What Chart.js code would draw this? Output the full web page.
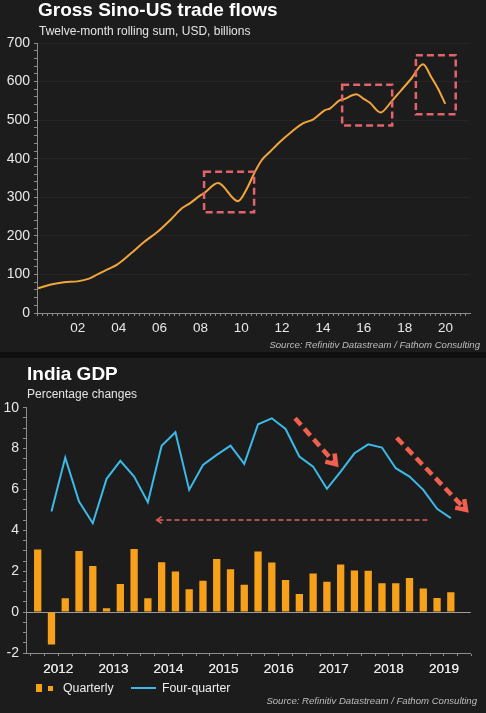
<!DOCTYPE html>
<html>
<head>
<meta charset="utf-8">
<script src="https://cdn.jsdelivr.net/npm/chart.js@4.4.0/dist/chart.umd.min.js"></script>
<style>
html, body { margin: 0; padding: 0; background: #0f0f0f; }
body { width: 486px; height: 713px; position: relative; overflow: hidden; font-family: "Liberation Sans", Arial, sans-serif; }
.panel { position: absolute; left: 0; width: 486px; background: #1c1c1c; }
#p1 { top: 0; height: 352px; }
#p2 { top: 358px; height: 355px; }
.panel canvas { position: absolute; left: 0; top: 0; }
.title { position: absolute; color: #fff; font-weight: bold; font-size: 19px; line-height: 19px; white-space: nowrap; }
.sub { position: absolute; color: #e4e4e4; font-size: 12px; line-height: 12px; white-space: nowrap; }
.source { position: absolute; color: #bdbdbd; font-size: 9.6px; line-height: 10px; font-style: italic; white-space: nowrap; }
.legend { position: absolute; left: 36px; top: 322px; height: 14px; color: #eee; font-size: 12.3px; line-height: 14px; white-space: nowrap; }
.legend span { display: inline-block; vertical-align: middle; }
</style>
</head>
<body>
<div class="panel" id="p1">
  <canvas id="tradeChart" width="486" height="352"></canvas>
  <div class="title" style="left:38px;top:0px;">Gross Sino-US trade flows</div>
  <div class="sub" style="left:39px;top:25px;">Twelve-month rolling sum, USD, billions</div>
  <div class="source" style="right:6px;top:340px;">Source: Refinitiv Datastream / Fathom Consulting</div>
</div>
<div class="panel" id="p2">
  <canvas id="gdpChart" width="486" height="355"></canvas>
  <div class="title" style="left:27px;top:6px;">India GDP</div>
  <div class="sub" style="left:27px;top:30px;">Percentage changes</div>
  <div class="legend">
    <span style="width:6px;height:8px;background:#f7a11a;"></span><span style="width:6px;"></span><span style="width:5px;height:5px;background:#f7a11a;margin-top:2px;"></span><span style="margin-left:10px;">Quarterly</span>
    <span style="width:25px;height:2px;background:#3cb9e6;margin-left:14px;"></span><span style="margin-left:6px;">Four-quarter</span>
  </div>
  <div class="source" style="right:9px;top:338px;">Source: Refinitiv Datastream / Fathom Consulting</div>
</div>

<script>
// Gross Sino-US trade flows, twelve-month rolling sum (USD bn), dates as decimal years
const tradeDates = [2000.05, 2000.68, 2001.33, 2001.98, 2002.55, 2002.96, 2003.45, 2003.94, 2004.59, 2005.24,
  2005.89, 2006.54, 2007.11, 2007.5, 2008.0, 2008.16, 2008.86, 2009.84, 2010.3, 2010.65,
  2011.0, 2011.41, 2011.9, 2012.47, 2013.04, 2013.53, 2014.1, 2014.34, 2014.83, 2015.0,
  2015.64, 2015.97, 2016.3, 2016.82, 2017.35, 2017.84, 2018.33, 2018.9, 2019.3, 2019.63, 2019.99];
const tradeValues = [64, 74, 80, 82, 89, 100, 113, 126, 154, 184,
  210, 242, 272, 285, 305, 310, 337, 290, 325, 364,
  396, 418, 444, 470, 492, 502, 526, 530, 552, 554,
  567, 556, 545, 520, 548, 578, 608, 645, 612, 582, 542];
const tradeYearTicks = [2002, 2004, 2006, 2008, 2010, 2012, 2014, 2016, 2018, 2020];
// dashed boxes on the trade chart (years / USD bn)
const highlightSpans = [[2008.18, 2010.63], [2014.94, 2017.39], [2018.55, 2020.5]];
const highlightBands = [[261, 366], [486, 592], [515, 668]];

// India GDP, percentage changes
const quarters = ['2012Q1', '2012Q2', '2012Q3', '2012Q4', '2013Q1', '2013Q2', '2013Q3', '2013Q4',
  '2014Q1', '2014Q2', '2014Q3', '2014Q4', '2015Q1', '2015Q2', '2015Q3', '2015Q4',
  '2016Q1', '2016Q2', '2016Q3', '2016Q4', '2017Q1', '2017Q2', '2017Q3', '2017Q4',
  '2018Q1', '2018Q2', '2018Q3', '2018Q4', '2019Q1', '2019Q2', '2019Q3'];
const quarterlyGrowth = [3.06, -1.59, 0.68, 2.99, 2.25, 0.19, 1.37, 3.09, 0.68, 2.44,
  1.99, 1.12, 1.53, 2.6, 2.1, 1.34, 2.96, 2.43, 1.57, 0.89,
  1.89, 1.49, 2.33, 2.04, 2.02, 1.41, 1.41, 1.67, 1.15, 0.69, 0.97];
const fourQuarterGrowth = [null, 4.92, 7.56, 5.41, 4.35, 6.52, 7.4, 6.63, 5.38, 8.14,
  8.8, 5.98, 7.2, 7.69, 8.14, 7.25, 9.19, 9.48, 8.96, 7.61,
  7.12, 6.03, 6.87, 7.77, 8.21, 8.05, 7.04, 6.63, 5.98, 5.05, 4.6];
const gdpYears = ['2012', '2013', '2014', '2015', '2016', '2017', '2018', '2019'];
// arrows on the GDP chart (quarter index, percent)
const slowdownArrows = [[[18.69, 9.48], [21.66, 7.23]], [[26.07, 8.53], [31.1, 5.0]]];
const lookbackArrow = [[28.3, 4.51], [8.64, 4.51]];

const AXIS = '#8c8c8c';
const TICK_TEXT = '#e8e8e8';
const FONT = '"Liberation Sans", Arial, sans-serif';

// draws the red boxes / arrows in data units through the chart scales
const markup = {
  id: 'markup',
  afterDatasetsDraw(chart, args, opts) {
    const { ctx, scales: { x, y } } = chart;
    ctx.save();
    (opts.boxes || []).forEach(b => {
      const x0 = x.getPixelForValue(b.x[0]), x1 = x.getPixelForValue(b.x[1]);
      const y0 = y.getPixelForValue(b.y[1]), y1 = y.getPixelForValue(b.y[0]);
      ctx.strokeStyle = '#e2646a';
      ctx.lineWidth = 2.5;
      ctx.setLineDash([7, 4]);
      ctx.strokeRect(x0, y0, x1 - x0, y1 - y0);
    });
    (opts.arrows || []).forEach(a => {
      const sx = x.getPixelForValue(a.from[0]), sy = y.getPixelForValue(a.from[1]);
      const ex = x.getPixelForValue(a.to[0]), ey = y.getPixelForValue(a.to[1]);
      const ang = Math.atan2(ey - sy, ex - sx);
      ctx.strokeStyle = a.color;
      ctx.lineWidth = a.width;
      ctx.lineCap = 'butt';
      ctx.setLineDash(a.dash);
      ctx.beginPath();
      ctx.moveTo(sx, sy);
      ctx.lineTo(ex - Math.cos(ang) * a.width * 0.6, ey - Math.sin(ang) * a.width * 0.6);
      ctx.stroke();
      ctx.setLineDash([]);
      ctx.lineJoin = 'miter';
      ctx.beginPath();
      ctx.moveTo(ex + Math.cos(ang + Math.PI - 0.6) * a.head, ey + Math.sin(ang + Math.PI - 0.6) * a.head);
      ctx.lineTo(ex, ey);
      ctx.lineTo(ex + Math.cos(ang + Math.PI + 0.6) * a.head, ey + Math.sin(ang + Math.PI + 0.6) * a.head);
      ctx.stroke();
    });
    ctx.restore();
  }
};

Chart.defaults.font.family = FONT;
Chart.defaults.color = TICK_TEXT;

new Chart(document.getElementById('tradeChart'), {
  type: 'line',
  data: {
    datasets: [{
      data: tradeDates.map((d, i) => ({ x: d, y: tradeValues[i] })),
      borderColor: '#f2a53c',
      borderWidth: 2,
      pointRadius: 0,
      cubicInterpolationMode: 'monotone',
      fill: false
    }]
  },
  options: {
    responsive: false,
    animation: false,
    layout: { padding: { top: 43, right: 16, left: 0, bottom: 0 } },
    plugins: {
      legend: { display: false },
      tooltip: { enabled: false },
      markup: {
        boxes: highlightSpans.map((s, i) => ({ x: s, y: highlightBands[i] }))
      }
    },
    scales: {
      x: {
        type: 'linear',
        min: 2000,
        max: 2021.2,
        afterBuildTicks: s => {
          const t = [];
          for (let q = 0; q <= 84; q++) t.push({ value: 2000 + q * 0.25 });
          s.ticks = t;
        },
        afterFit: s => { s.height = 39; },
        ticks: {
          autoSkip: false,
          maxRotation: 0,
          padding: 4,
          color: TICK_TEXT,
          font: { size: 13.5 },
          callback: v => tradeYearTicks.includes(v) ? String(v % 100).padStart(2, '0') : ''
        },
        grid: { drawOnChartArea: false, tickLength: 3, tickColor: AXIS },
        border: { color: AXIS }
      },
      y: {
        min: 0,
        max: 700,
        afterBuildTicks: s => {
          const t = [];
          for (let v = 0; v <= 700; v += 20) t.push({ value: v });
          s.ticks = t;
        },
        afterFit: s => { s.width = 37; },
        ticks: {
          autoSkip: false,
          padding: 4,
          color: TICK_TEXT,
          font: { size: 14 },
          callback: v => v % 100 === 0 ? String(v) : ''
        },
        grid: {
          tickLength: 3,
          tickColor: AXIS,
          color: c => (c.tick && c.tick.value % 100 === 0 && c.tick.value > 0) ? '#252525' : 'transparent'
        },
        border: { color: AXIS }
      }
    }
  },
  plugins: [markup]
});

new Chart(document.getElementById('gdpChart'), {
  type: 'bar',
  data: {
    datasets: [{
      type: 'line',
      label: 'Four-quarter',
      data: fourQuarterGrowth.map((v, i) => ({ x: i, y: v })),
      borderColor: '#3cb9e6',
      borderWidth: 2,
      pointRadius: 0,
      tension: 0,
      order: 0
    }, {
      type: 'bar',
      label: 'Quarterly',
      data: quarterlyGrowth.map((v, i) => ({ x: i, y: v })),
      backgroundColor: '#f7a11a',
      barPercentage: 0.53,
      categoryPercentage: 1,
      order: 1
    }]
  },
  options: {
    responsive: false,
    animation: false,
    layout: { padding: { top: 49.7, right: 15.2, left: 0, bottom: 0 } },
    plugins: {
      legend: { display: false },
      tooltip: { enabled: false },
      markup: {
        arrows: [
          ...slowdownArrows.map(a => ({ from: a[0], to: a[1], color: '#f0604f', width: 4.5, dash: [9, 5], head: 11 })),
          { from: lookbackArrow[0], to: lookbackArrow[1], color: '#e0605a', width: 1.5, dash: [5, 3], head: 6 }
        ]
      }
    },
    scales: {
      x: {
        type: 'linear',
        offset: false,
        min: -0.85,
        max: 31.45,
        afterBuildTicks: s => {
          const t = [];
          for (let q = 0; q <= quarters.length + 1; q++) t.push({ value: q - 0.5 });
          gdpYears.forEach((y, j) => t.push({ value: j * 4 + 1.5 }));
          s.ticks = t;
        },
        afterFit: s => { s.height = 60; },
        ticks: {
          autoSkip: false,
          maxRotation: 0,
          padding: 5,
          color: TICK_TEXT,
          font: { size: 13.5 },
          callback: v => {
            const j = (v - 1.5) / 4;
            return Number.isInteger(j) && gdpYears[j] ? gdpYears[j] : '';
          }
        },
        grid: {
          offset: false,
          drawOnChartArea: false,
          tickLength: 3,
          tickColor: c => (c.tick && Number.isInteger(c.tick.value - 0.5)) ? AXIS : 'transparent'
        },
        border: { color: AXIS }
      },
      y: {
        min: -2,
        max: 10,
        afterBuildTicks: s => {
          const t = [];
          for (let v = -2; v <= 10; v += 0.5) t.push({ value: v });
          s.ticks = t;
        },
        afterFit: s => { s.width = 26; },
        ticks: {
          autoSkip: false,
          padding: 4,
          color: TICK_TEXT,
          font: { size: 14 },
          callback: v => (Number.isInteger(v) && v % 2 === 0) ? String(v) : ''
        },
        grid: {
          tickLength: 3,
          tickColor: AXIS,
          color: c => (c.tick && c.tick.value === 0) ? '#9c9c9c' : 'transparent'
        },
        border: { color: AXIS }
      }
    }
  },
  plugins: [markup]
});
</script>
</body>
</html>
